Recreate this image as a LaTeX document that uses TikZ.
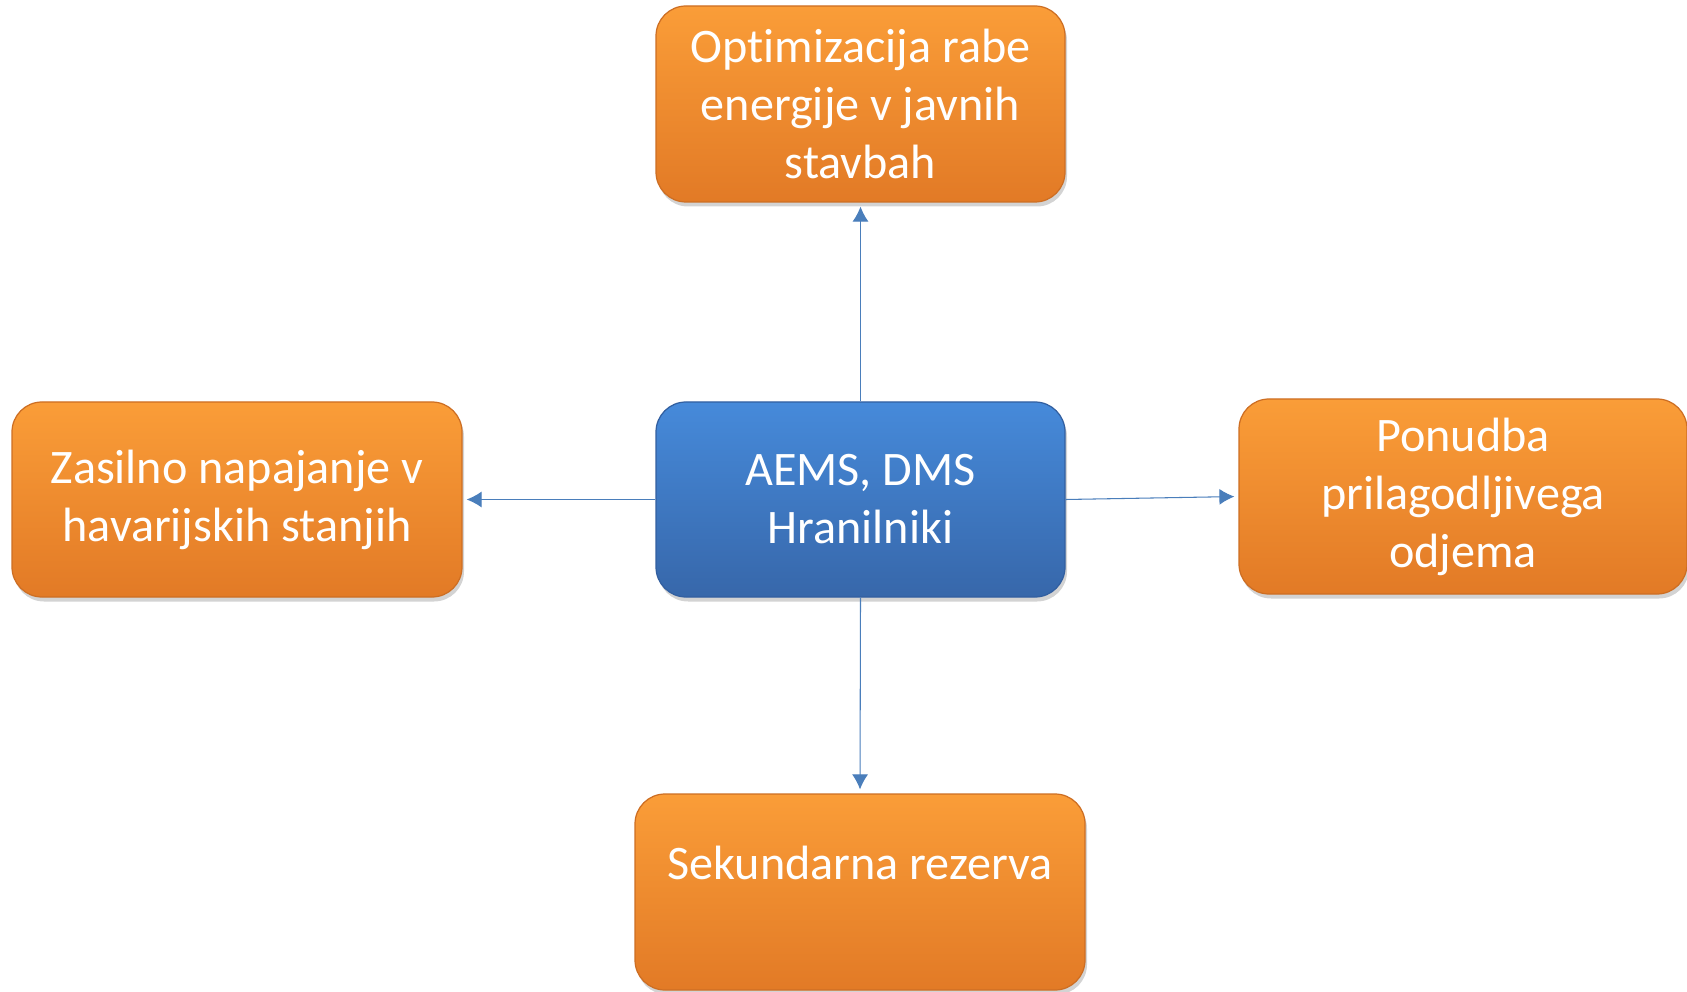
\documentclass[tikz,border=0pt]{standalone}
\usepackage{fontspec}
\setmainfont[Ligatures=NoCommon]{Carlito}
\usetikzlibrary{arrows.meta,shadows}

\definecolor{orangetop}{RGB}{250,157,56}
\definecolor{orangebot}{RGB}{226,122,38}
\definecolor{orangeedge}{RGB}{205,110,35}
\definecolor{bluetop}{RGB}{70,138,218}
\definecolor{bluebot}{RGB}{55,103,170}
\definecolor{blueedge}{RGB}{50,95,160}
\definecolor{linkblue}{RGB}{74,126,187}

\begin{document}
\begin{tikzpicture}[
    every node/.style={font=\fontsize{27.4pt}{33pt}\selectfont, text=white, align=center},
    goal/.style={rounded corners=0.6cm, top color=orangetop, bottom color=orangebot, draw=orangeedge, line width=0.7pt,
        minimum height=3.9cm, drop shadow={opacity=0.35, shadow xshift=0.04cm, shadow yshift=-0.09cm}},
    core/.style={goal, top color=bluetop, bottom color=bluebot, draw=blueedge},
    link/.style={draw=linkblue, line width=0.6pt, -{Latex[length=0.3cm,width=0.32cm]}, shorten >=0.08cm}
  ]
    \useasboundingbox (0,0) rectangle (33.74,19.82);
    % central system
    \node[core, minimum width=8.18cm] (hub) at (17.21,9.83) {AEMS, DMS\\Hranilniki};
    % services around it
    \node[goal, minimum width=8.18cm, minimum height=3.92cm] (top_goal) at (17.21,17.74) {Optimizacija rabe\\energije v javnih\\stavbah};
    \node[goal, minimum width=9.0cm] (left_goal) at (4.74,9.83) {Zasilno napajanje v\\havarijskih stanjih};
    \node[goal, minimum width=8.96cm] (right_goal) at (29.26,9.89) {Ponudba\\prilagodljivega\\odjema};
    \node[goal, minimum width=9.0cm, minimum height=3.92cm] (bottom_goal) at (17.2,1.98) {Sekundarna rezerva\\\mbox{}};
    % links
    \draw[link] (hub.north) -- (top_goal.south);
    \draw[link] (hub.west) -- (left_goal.east);
    \draw[link] (hub.east) -- (right_goal.west);
    \draw[link] (hub.south) -- (bottom_goal.north);
\end{tikzpicture}
\end{document}
